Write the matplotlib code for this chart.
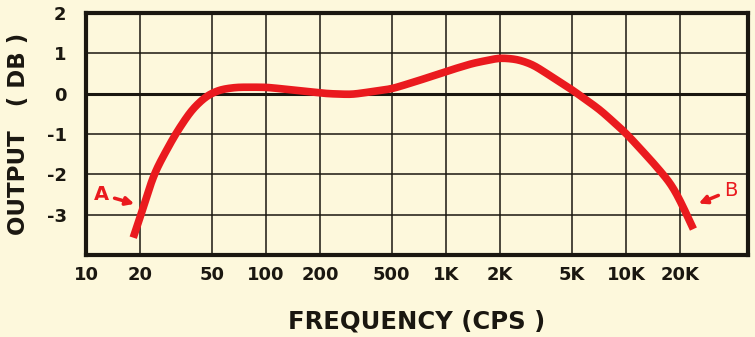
import numpy as np
import matplotlib.pyplot as plt
from matplotlib.ticker import FixedLocator, NullLocator

# curve (freq in cps, output in dB)
freq = [18.3, 20, 23.7, 31.2, 38.6, 46.8, 55.5, 68.7, 100, 150, 220, 300, 500,
        700, 1000, 1400, 2000, 2500, 3040, 5000, 7170, 10000, 14200, 17900, 20000, 23700]
output_db = [-3.57, -3.07, -2.0, -1.02, -0.4, -0.05, 0.1, 0.16, 0.16, 0.08, 0.0, -0.02, 0.12,
             0.32, 0.55, 0.75, 0.89, 0.85, 0.72, 0.1, -0.4, -0.98, -1.72, -2.25, -2.65, -3.36]

xticks = [10, 20, 50, 100, 200, 500, 1000, 2000, 5000, 10000, 20000]
xlabels = ["10", "20", "50", "100", "200", "500", "1K", "2K", "5K", "10K", "20K"]
yticks = [-3, -2, -1, 0, 1, 2]

bg = "#fdf8dc"
ink = "#1a1710"
red = "#ea1a1e"


def smooth_curve(xs, ys, step=0.004, win=13, passes=3):
    # interpolate the read points on a fine grid, then a light moving average
    xs = np.asarray(xs, float)
    ys = np.asarray(ys, float)
    gx = np.arange(xs[0], xs[-1] + step / 2, step)
    gy = np.interp(gx, xs, ys)
    h = (win // 2) * passes
    left = 2 * gy[0] - gy[h:0:-1]
    right = 2 * gy[-1] - gy[-2:-h - 2:-1]
    sm = np.concatenate([left, gy, right])
    for _ in range(passes):
        sm = np.convolve(sm, np.ones(win) / win, mode="valid")
    return gx, sm


fig = plt.figure(figsize=(7.55, 3.37), dpi=100, facecolor=bg)
ax = fig.add_axes([0.1139, 0.2433, 0.8768, 0.7181], facecolor=bg)

ax.set_xscale("log")
ax.set_xlim(10, 47600)
ax.set_ylim(-4, 2)

# grid lines
for x in xticks[1:]:
    ax.axvline(x, color=ink, lw=1.1, zorder=1)
for y in yticks:
    ax.axhline(y, color=ink, lw=2.2 if y == 0 else 1.1, zorder=1)

lx, ly = smooth_curve(np.log10(freq), output_db)
ax.plot(10 ** lx, ly, color=red, lw=5.5, solid_capstyle="butt", zorder=3)

for s in ax.spines.values():
    s.set_linewidth(3)
    s.set_color(ink)

ax.xaxis.set_major_locator(FixedLocator(xticks))
ax.xaxis.set_minor_locator(NullLocator())
ax.set_xticklabels(xlabels)
ax.set_yticks(yticks)
ax.set_yticklabels([str(v) for v in yticks])
ax.tick_params(length=0, labelsize=13, colors=ink)
ax.tick_params(axis="x", pad=8)
ax.tick_params(axis="y", pad=14)
for lab in ax.get_xticklabels() + ax.get_yticklabels():
    lab.set_fontweight("bold")

ax.set_xlabel("FREQUENCY (CPS )", fontsize=17.5, fontweight="bold", color=ink, labelpad=18)
ax.set_ylabel("OUTPUT   ( DB )", fontsize=16.5, fontweight="bold", color=ink, labelpad=12)

# A / B markers
ax.annotate("A", xy=(19.2, -2.75), xytext=(12.2, -2.5), color=red, fontsize=14,
            fontweight="bold", ha="center", va="center",
            arrowprops=dict(arrowstyle="-|>", color=red, lw=2.5, mutation_scale=12))
ax.annotate("B", xy=(24500, -2.75), xytext=(38000, -2.4), color=red, fontsize=14,
            ha="center", va="center",
            arrowprops=dict(arrowstyle="-|>", color=red, lw=2.5, mutation_scale=12))

fig.savefig("out.png", dpi=100, facecolor=bg)
